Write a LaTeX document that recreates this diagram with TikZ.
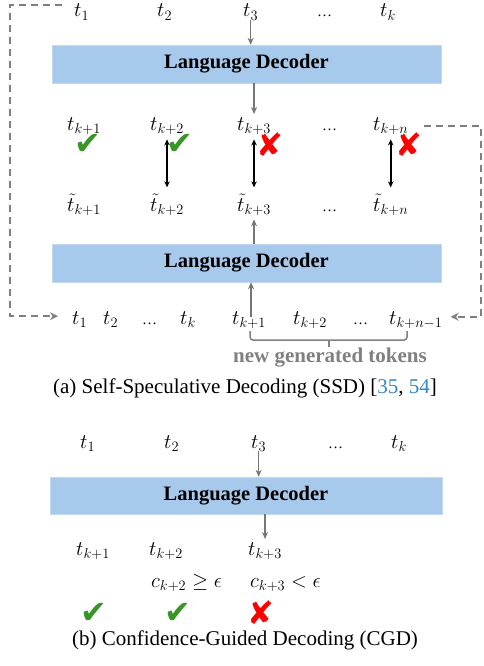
\documentclass[tikz,border=0pt]{standalone}
\usepackage{fontspec}
\setmainfont{Liberation Serif}
\newfontfamily\symfont{DejaVu Sans}
\usetikzlibrary{arrows.meta}
\DeclareMathSizes{21}{21}{14.5}{11}
\definecolor{boxblue}{RGB}{167,201,235}
\definecolor{arrgray}{RGB}{118,118,118}
\definecolor{dashgray}{RGB}{128,128,128}
\definecolor{okgreen}{RGB}{56,150,38}
\definecolor{nored}{RGB}{255,0,0}
\definecolor{citeblue}{RGB}{50,135,200}
\begin{document}
\begin{tikzpicture}[x=1pt,y=-1pt,
  tok/.style={font=\fontsize{21}{23}\selectfont, inner sep=0pt, anchor=base west},
  dots/.style={font=\fontsize{15}{17}\selectfont, inner sep=0pt, anchor=base west},
  dec/.style={draw=boxblue!70!white, fill=boxblue, minimum width=389pt, minimum height=38pt, inner sep=0pt, font=\bfseries\fontsize{20.5}{22}\selectfont},
  garr/.style={draw=arrgray, line width=1.6pt, -{Stealth[length=7pt,width=6pt]}},
  darr/.style={draw=black, line width=1.8pt, {Stealth[length=6pt,width=5.5pt]}-{Stealth[length=6pt,width=5.5pt]}},
  dasharr/.style={draw=dashgray, line width=2pt, dash pattern=on 7pt off 5pt, -{Stealth[length=8pt,width=8pt]}},
  okmark/.style={text=okgreen, font=\symfont\fontsize{32}{32}\selectfont, inner sep=0pt},
  nomark/.style={text=nored, font=\symfont\fontsize{32}{32}\selectfont, inner sep=0pt},
  capt/.style={font=\fontsize{21}{24}\selectfont, inner sep=0pt},
  bracestyle/.style={draw=dashgray, line width=1.5pt, rounded corners=3pt}]
\useasboundingbox (0,0) rectangle (483,666);
\coordinate (lx) at (10,0);
\coordinate (rx) at (481,0);

% ---------- (a) SSD ----------
\node[tok] (a1) at (74,17) {$t_1$};
\node[tok] (a2) at (157,17) {$t_2$};
\node[tok] (a3) at (243,17) {$t_3$};
\node[dots] (ad) at (317,17) {…};
\node[tok] (ak) at (380,17) {$t_k$};

\node[dec] (d1) at (246.5,64) {Language Decoder};

\node[tok] (p1) at (67,130) {$t_{k+1}$};
\node[tok] (p2) at (150,130) {$t_{k+2}$};
\node[tok] (p3) at (237,130) {$t_{k+3}$};
\node[dots] (pd) at (322,130) {…};
\node[tok] (pn) at (373,130) {$t_{k+n}$};

\node[okmark] (ok1) at (88,144) {✔};
\node[okmark] (ok2) at (180,144) {✔};
\node[nomark] (no1) at (270,145) {✘};
\node[nomark] (no2) at (409,145) {✘};

\node[tok] (q1) at (67,211) {$\tilde t_{k+1}$};
\node[tok] (q2) at (150,211) {$\tilde t_{k+2}$};
\node[tok] (q3) at (237,211) {$\tilde t_{k+3}$};
\node[dots] (qd) at (322,211) {…};
\node[tok] (qn) at (373,211) {$\tilde t_{k+n}$};

\node[dec] (d2) at (246.5,263) {Language Decoder};

\node[tok] (b1) at (72,324) {$t_1$};
\node[tok] (b2) at (103,324) {$t_2$};
\node[dots] (bd1) at (142,324) {…};
\node[tok] (bk) at (180,324) {$t_k$};
\node[tok] (bk1) at (232,324) {$t_{k+1}$};
\node[tok] (bk2) at (293,324) {$t_{k+2}$};
\node[dots] (bd2) at (353,324) {…};
\node[tok] (bkn) at (389,324) {$t_{k+n-1}$};

\draw[garr] (a3.south) -- (a3.south |- d1.north);
\draw[garr] (d1.south -| p3.north) -- ([yshift=3pt]p3.north);
\draw[darr] ([yshift=-5pt]p2.south) -- ([yshift=6pt]q2.north);
\draw[darr] ([yshift=-5pt]p3.south) -- ([yshift=6pt]q3.north);
\draw[darr] ([yshift=-5pt]pn.south) -- ([yshift=6pt]qn.north);
\draw[garr] (d2.north -| q3.south) -- ([yshift=-4pt]q3.south);
\coordinate (ua) at ([xshift=2pt,yshift=-6pt]bk1.north);
\draw[garr] (ua) -- (ua |- d2.south);

\coordinate (ls) at ([xshift=-12pt,yshift=7pt]a1.west);
\coordinate (le) at ([xshift=-14pt,yshift=3pt]b1.west);
\draw[dasharr] (ls) -- (ls -| lx) |- (le);
\coordinate (rs) at ([xshift=16pt]pn.east);
\coordinate (re) at ([xshift=8pt,yshift=3pt]bkn.east);
\draw[dasharr] (rs) -- (rs -| rx) |- (re);

\coordinate (brL) at (250,331);
\coordinate (brR) at (407,331);
\coordinate (brM) at (329,340);
\draw[bracestyle] (brL) -- (brL |- brM) -- (brR |- brM) -- (brR);
\draw[draw=dashgray, line width=1.5pt] (brM) -- ++(0,7);
\node[font=\bfseries\fontsize{21}{24}\selectfont, text=dashgray, inner sep=0pt] (ngt) at (330,358) {new generated tokens};

\node[capt] (capa) at (245,388) {(a) Self-Speculative Decoding (SSD) [\textcolor{citeblue}{35}, \textcolor{citeblue}{54}]};

% ---------- (b) CGD ----------
\node[tok] (c1) at (80,448) {$t_1$};
\node[tok] (c2) at (164,448) {$t_2$};
\node[tok] (c3) at (251,448) {$t_3$};
\node[dots] (cd) at (328,448) {…};
\node[tok] (ck) at (391,448) {$t_k$};

\node[dec, minimum width=392pt, minimum height=37pt] (d3) at (246,495.5) {Language Decoder};

\node[tok] (e1) at (76,555) {$t_{k+1}$};
\node[tok] (e2) at (149,555) {$t_{k+2}$};
\node[tok] (e3) at (248,555) {$t_{k+3}$};

\node[tok] (f2) at (151,587) {$c_{k+2} \geq \epsilon$};
\node[tok] (f3) at (250,587) {$c_{k+3} < \epsilon$};

\node[okmark] (ok3) at (94,613) {✔};
\node[okmark] (ok4) at (178,613) {✔};
\node[nomark] (no3) at (261,613) {✘};

\draw[garr] (c3.south) -- (c3.south |- d3.north);
\draw[garr] (d3.south -| e3.north) -- ([yshift=3pt]e3.north);

\node[capt] (capb) at (245,640) {(b) Confidence-Guided Decoding (CGD)};
\end{tikzpicture}
\end{document}
